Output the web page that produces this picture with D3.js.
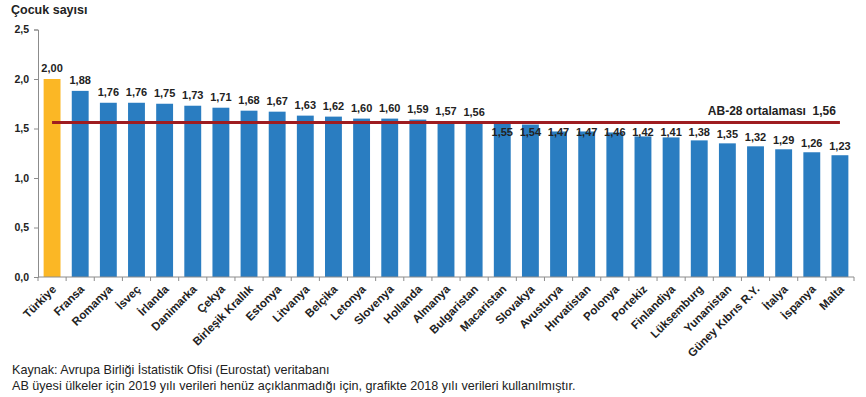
<!DOCTYPE html>
<html>
<head>
<meta charset="utf-8">
<script src="https://cdn.jsdelivr.net/npm/d3@7"></script>
<style>
  body { margin: 0; background: #fff; }
  svg { display: block; font-family: Arial, "Liberation Sans", sans-serif; }
</style>
</head>
<body>
<div id="viz"></div>
<script>
// ulkeler ve toplam dogurganlik hizi
var countries = ["Türkiye", "Fransa", "Romanya", "İsveç", "İrlanda", "Danimarka", "Çekya",
  "Birleşik Krallık", "Estonya", "Litvanya", "Belçika", "Letonya", "Slovenya", "Hollanda",
  "Almanya", "Bulgaristan", "Macaristan", "Slovakya", "Avusturya", "Hırvatistan", "Polonya",
  "Portekiz", "Finlandiya", "Lüksemburg", "Yunanistan", "Güney Kıbrıs R.Y.", "İtalya",
  "İspanya", "Malta"];
var values = [2.00, 1.88, 1.76, 1.76, 1.75, 1.73, 1.71, 1.68, 1.67, 1.63, 1.62, 1.60, 1.60,
  1.59, 1.57, 1.56, 1.55, 1.54, 1.47, 1.47, 1.46, 1.42, 1.41, 1.38, 1.35, 1.32, 1.29, 1.26, 1.23];
var euAverage = 1.56;
var yTicks = [0, 0.5, 1.0, 1.5, 2.0, 2.5];
var notes = ["Kaynak: Avrupa Birliği İstatistik Ofisi (Eurostat) veritabanı",
  "AB üyesi ülkeler için 2019 yılı verileri henüz açıklanmadığı için, grafikte 2018 yılı verileri kullanılmıştır."];

var width = 866, height = 397;
var margin = {top: 29.5, right: 12, bottom: 120, left: 38};
var fmt = function(v, d) { return v.toFixed(d).replace(".", ","); };

var svg = d3.select("#viz").append("svg")
    .attr("width", width)
    .attr("height", height);

var x = d3.scaleBand()
    .domain(countries)
    .range([margin.left, width - margin.right])
    .paddingInner(0.4)
    .paddingOuter(0.2);

var y = d3.scaleLinear()
    .domain([0, 2.5])
    .range([height - margin.bottom, margin.top]);

// y ekseni
var yAxis = svg.append("g")
    .attr("transform", "translate(" + margin.left + ",0)")
    .call(d3.axisLeft(y).tickValues(yTicks).tickSize(4).tickPadding(5)
      .tickFormat(function(d) { return fmt(d, 1); }));
yAxis.select(".domain").attr("stroke", "#8c8c8c");
yAxis.selectAll(".tick line").attr("stroke", "#8c8c8c");
yAxis.selectAll("text")
    .attr("font-size", "10.5px").attr("font-weight", "bold").attr("fill", "#222");

svg.append("text")
    .attr("x", 11).attr("y", 14)
    .attr("font-size", "12.5px").attr("font-weight", "bold").attr("fill", "#222")
    .text("Çocuk sayısı");

// cubuklar
svg.selectAll(".bar")
    .data(values)
    .enter().append("rect")
      .attr("class", "bar")
      .attr("x", function(d, i) { return x(countries[i]); })
      .attr("y", function(d) { return y(d); })
      .attr("width", x.bandwidth())
      .attr("height", function(d) { return y(0) - y(d); })
      .attr("fill", function(d, i) { return i === 0 ? "#fbb725" : "#2a7dc1"; });

// x ekseni
var y0 = y(0);
var step = x.step();
var start = x(countries[0]) - step * x.paddingInner() / 2;
var xAxis = svg.append("g");
xAxis.append("line")
    .attr("x1", margin.left).attr("x2", width - margin.right)
    .attr("y1", y0).attr("y2", y0)
    .attr("stroke", "#8c8c8c");
xAxis.selectAll(".xt")
    .data(d3.range(countries.length + 1))
    .enter().append("line")
      .attr("class", "xt")
      .attr("x1", function(i) { return start + i * step; })
      .attr("x2", function(i) { return start + i * step; })
      .attr("y1", y0).attr("y2", y0 + 4)
      .attr("stroke", "#8c8c8c");
xAxis.selectAll(".xl")
    .data(countries)
    .enter().append("text")
      .attr("class", "xl")
      .attr("transform", function(d) {
        return "translate(" + (x(d) + x.bandwidth() / 2 + 2) + "," + (y0 + 10) + ") rotate(-45)";
      })
      .attr("text-anchor", "end")
      .attr("dy", "0.35em")
      .attr("font-size", "11.5px").attr("font-weight", "bold").attr("fill", "#222")
      .text(function(d) { return d; });

// AB-28 ortalamasi
var ly = y(euAverage);
var cx0 = x(countries[0]) + x.bandwidth() / 2;
var cx1 = x(countries[countries.length - 1]) + x.bandwidth() / 2;
svg.append("line")
    .attr("x1", cx0).attr("x2", cx1)
    .attr("y1", ly).attr("y2", ly)
    .attr("stroke", "#9e1c20").attr("stroke-width", 3);
svg.append("text")
    .attr("x", cx1 - 4).attr("y", ly - 8)
    .attr("text-anchor", "end")
    .attr("font-size", "12px").attr("font-weight", "bold").attr("fill", "#222")
    .attr("xml:space", "preserve")
    .text("AB-28 ortalaması  " + fmt(euAverage, 2));

// deger etiketleri (cizgiye carpanlar cizginin altina)
svg.selectAll(".val")
    .data(values)
    .enter().append("text")
      .attr("class", "val")
      .attr("x", function(d, i) { return x(countries[i]) + x.bandwidth() / 2; })
      .attr("y", function(d, i) {
        var b = y(d) - 7;
        if (i > 0 && y(d) > ly && b - 9 < ly + 3) b = Math.max(y(d) - 5, ly + 13);
        else if (y(d) > ly) b = y(d) - 5;
        return b;
      })
      .attr("text-anchor", "middle")
      .attr("font-size", "11px").attr("font-weight", "bold").attr("fill", "#222")
      .text(function(d) { return fmt(d, 2); });

// notlar
svg.selectAll(".note")
    .data(notes)
    .enter().append("text")
      .attr("class", "note")
      .attr("x", 12)
      .attr("y", function(d, i) { return 374 + i * 16; })
      .attr("font-size", "12.6px").attr("fill", "#222")
      .text(function(d) { return d; });
</script>
</body>
</html>
